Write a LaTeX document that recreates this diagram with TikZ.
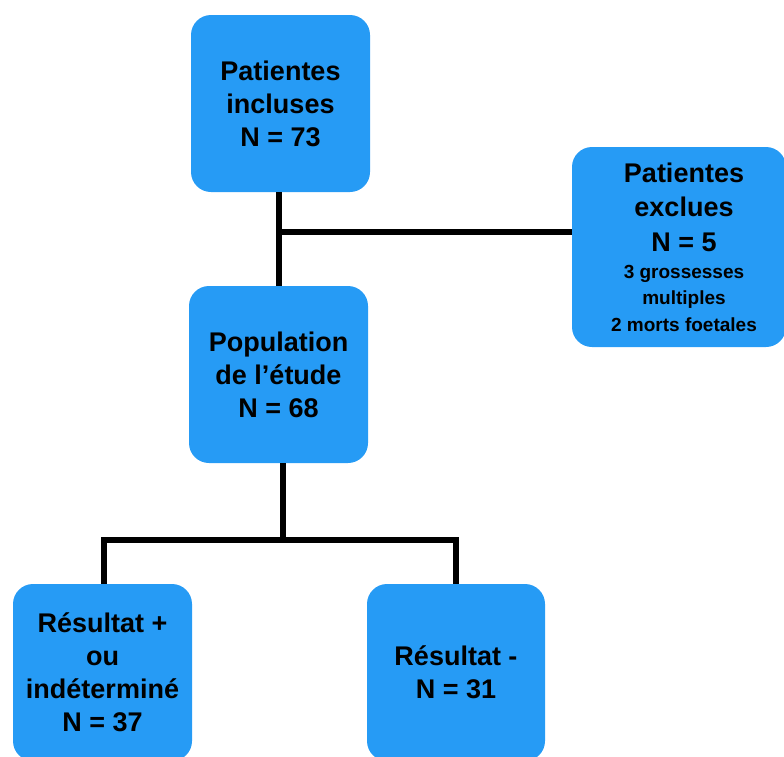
\documentclass[tikz,border=0pt]{standalone}
\usepackage{fontspec}
\setmainfont{Liberation Sans}
\definecolor{boxblue}{RGB}{38,155,245}
\tikzset{
  box/.style={rectangle, rounded corners=20pt, fill=boxblue, draw=none,
    inner sep=0pt, align=center, text=black,
    font=\bfseries\fontsize{27}{33}\selectfont},
  boxtext/.style={align=center, inner sep=0pt, text=black},
  link/.style={draw=black, line width=5.5pt, line join=miter}
}
\begin{document}
\begin{tikzpicture}[x=1pt,y=-1pt]
\useasboundingbox (0,0) rectangle (784,756);
\node[box, minimum width=179pt, minimum height=177pt] (top) at (280.5,103.5)
  {Patientes\\incluses\\N = 73};
\node[box, minimum width=214pt, minimum height=200pt] (excl) at (679,247) {};
\node[boxtext, font=\bfseries\fontsize{27}{34.5}\selectfont] (excltitle) at (684,207)
  {Patientes\\exclues\\N = 5};
\node[boxtext, font=\bfseries\fontsize{19}{26.5}\selectfont] (excldetail) at (684,298)
  {3 grossesses\\multiples\\2 morts foetales};
\node[box, minimum width=179pt, minimum height=177pt] (pop) at (278.5,374.5)
  {Population\\de l’étude\\N = 68};
\node[box, minimum width=179pt, minimum height=177pt] (res1) at (102.5,672.5)
  {Résultat +\\ou\\indéterminé\\N = 37};
\node[box, minimum width=178pt, minimum height=177pt] (res2) at (456,672.5)
  {Résultat -\\N = 31};
\coordinate (j1) at (279,232);
\coordinate (j2) at (283,540);
\coordinate (jl) at (104,540);
\coordinate (jr) at (456,540);
\draw[link] (j1 |- top.south) -- (j1 |- pop.north);
\draw[link] (j1) -- (excl.west |- j1);
\draw[link] (j2 |- pop.south) -- (j2);
\draw[link] (jl |- res1.north) -- (jl) -- (jr) -- (jr |- res2.north);
\end{tikzpicture}
\end{document}
